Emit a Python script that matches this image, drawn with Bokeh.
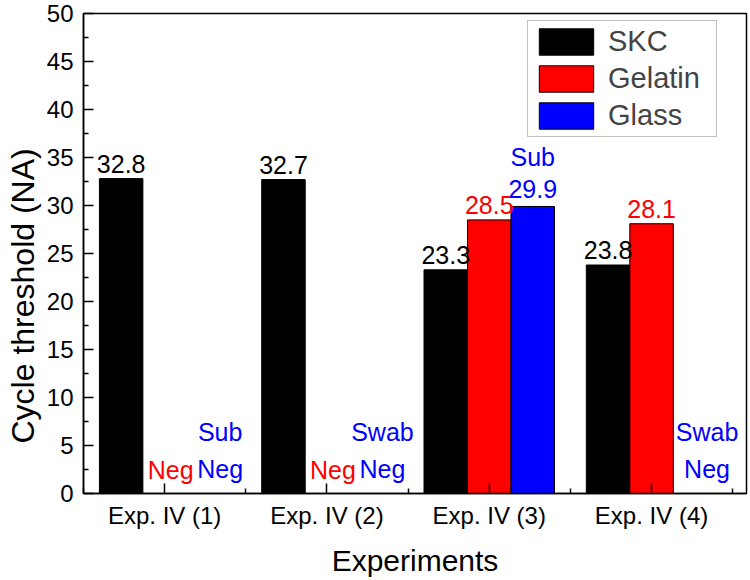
from bokeh.plotting import figure
from bokeh.models import Range1d, FixedTicker, Legend, LegendItem, Title
from bokeh.core.properties import value
from bokeh.embed import file_html
from bokeh.resources import INLINE

# ---- data ----
categories = ["Exp. IV (1)", "Exp. IV (2)", "Exp. IV (3)", "Exp. IV (4)"]
series_names = ["SKC", "Gelatin", "Glass"]
skc = [32.8, 32.7, 23.3, 23.8]
gelatin = [None, None, 28.5, 28.1]      # None = "Neg"
glass = [None, None, 29.9, None]        # None = "Neg"
glass_sample = ["Sub", "Swab", "Sub", "Swab"]
y_ticks = [0, 5, 10, 15, 20, 25, 30, 35, 40, 45, 50]
y_minor = [2.5, 7.5, 12.5, 17.5, 22.5, 27.5, 32.5, 37.5, 42.5, 47.5]

colors = ["#000000", "#ff0000", "#0000ff"]
neg_dx = [0, 6, 12]
val_dy = [-6, -6, -3]
FONT = "Liberation Sans"

p = figure(width=750, height=580,
           x_range=Range1d(0.5, 4.585), y_range=Range1d(0, 50),
           output_backend="svg", toolbar_location=None,
           min_border_left=83, min_border_right=4,
           min_border_top=13, min_border_bottom=87)
p.background_fill_color = "white"
p.border_fill_color = "white"
p.xgrid.visible = False
p.ygrid.visible = False
p.outline_line_color = "black"
p.outline_line_width = 1.5

offsets = [-0.268, 0.0, 0.268]
bw = 0.268
all_series = [skc, gelatin, glass]
renderers = []
for si, vals in enumerate(all_series):
    xs = [i + 1 + offsets[si] for i, v in enumerate(vals) if v is not None]
    tops = [v for v in vals if v is not None]
    r = p.vbar(x=xs, top=tops, width=bw, fill_color=colors[si],
               line_color="black", line_width=1)
    renderers.append(r)

# value labels
for si, vals in enumerate(all_series):
    xs, ys, texts = [], [], []
    for i, v in enumerate(vals):
        if v is None:
            continue
        xs.append(i + 1 + offsets[si])
        ys.append(v)
        t = f"{v:.1f}"
        if si == 2:
            t = glass_sample[i] + "\n" + t
        texts.append(t)
    p.text(x=xs, y=ys, text=texts, text_font=value(FONT), text_font_size="25px",
           text_color=colors[si], text_align="center", text_baseline="bottom",
           text_line_height=1.15, y_offset=val_dy[si])

# negative labels
for si, vals in enumerate(all_series):
    xs, ys, texts = [], [], []
    for i, v in enumerate(vals):
        if v is not None:
            continue
        xs.append(i + 1 + offsets[si])
        ys.append(0)
        t = "Neg"
        if si == 2:
            t = glass_sample[i] + "\nNeg"
        texts.append(t)
    if xs:
        p.text(x=xs, y=ys, text=texts, text_font=value(FONT), text_font_size="25px",
               text_color=colors[si], text_align="center", text_baseline="bottom",
               text_line_height=1.35, x_offset=neg_dx[si], y_offset=-10)

# axes
p.xaxis.ticker = FixedTicker(ticks=[1, 2, 3, 4], minor_ticks=[0.5, 1.5, 2.5, 3.5, 4.5])
p.xaxis.major_label_overrides = {i + 1: c for i, c in enumerate(categories)}
p.yaxis.ticker = FixedTicker(ticks=y_ticks, minor_ticks=y_minor)
p.xaxis.axis_label = "Experiments"
for ax in (p.xaxis[0], p.yaxis[0]):
    ax.axis_line_width = 1.5
    ax.axis_line_color = "black"
    ax.major_tick_line_color = "black"
    ax.minor_tick_line_color = "black"
    ax.major_tick_line_width = 1.5
    ax.minor_tick_line_width = 1.5
    ax.major_tick_in = 10
    ax.major_tick_out = 0
    ax.minor_tick_in = 5
    ax.minor_tick_out = 0
    ax.major_label_text_font = FONT
    ax.major_label_text_font_size = "24px"
    ax.major_label_text_color = "black"
    ax.axis_label_text_font = FONT
    ax.axis_label_text_font_style = "normal"
    ax.axis_label_text_color = "black"
p.xaxis.axis_label_text_font_size = "30px"
p.yaxis.major_label_standoff = 10
p.xaxis.major_label_standoff = 8
p.xaxis.axis_label_standoff = 12

# y-axis title as a left-side title, shifted toward the bottom like the reference
p.add_layout(Title(text="Cycle threshold (NA)", align="left", offset=50,
                   standoff=5, text_font=FONT, text_font_size="32px",
                   text_font_style="normal", text_color="black"), "left")

legend = Legend(items=[LegendItem(label=n, renderers=[r]) for n, r in zip(series_names, renderers)],
                location=(444, 356), orientation="vertical",
                glyph_width=68, glyph_height=33, label_height=33, label_width=104,
                label_standoff=8, spacing=4, padding=4, margin=0,
                label_text_font=FONT, label_text_font_size="29px",
                border_line_color="#808080", border_line_width=1,
                background_fill_color="white", background_fill_alpha=1)
p.add_layout(legend)

open("out.html", "w").write(file_html(p, INLINE))
